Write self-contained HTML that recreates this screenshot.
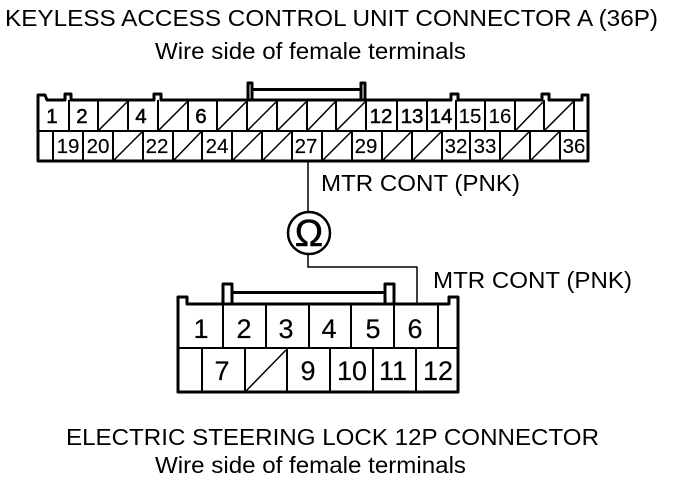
<!DOCTYPE html>
<html><head><meta charset="utf-8"><style>
html,body{margin:0;padding:0;background:#fff}
svg{display:block}
text{font-family:"Liberation Sans",sans-serif;fill:#000}
.t{font-size:23.500px}
.a{font-size:20.500px;text-anchor:middle;stroke:#000;stroke-width:.15px}
.b{stroke:#000;stroke-width:.5px}
.c{font-size:27px;text-anchor:middle;stroke:#000;stroke-width:.2px}
</style></head><body>
<svg width="688" height="484" viewBox="0 0 688 484" xmlns="http://www.w3.org/2000/svg">
<text class="t" x="5" y="26" textLength="653" lengthAdjust="spacingAndGlyphs">KEYLESS ACCESS CONTROL UNIT CONNECTOR A (36P)</text>
<text class="t" x="155" y="59" textLength="311" lengthAdjust="spacingAndGlyphs">Wire side of female terminals</text>

<g fill="none" stroke="#000" stroke-linejoin="round">
<!-- top connector outline -->
<path stroke-width="3" d="M38 161V95H45L47 100H65V94H71V100H154V94H161V100H451V94H458V100H542V94H549V100H582V95H588V161Z"/>
<path stroke-width="3" d="M248 100V83H252V100M361 100V83H365V100M252 89.500H361"/>
<path stroke-width="2" d="M38 131H588"/>
<path stroke-width="2" d="M69 100V131M98 100V131M128 100V131M158 100V131M188 100V131M217 100V131M247 100V131M277 100V131M307 100V131M336 100V131M366 100V131M397 100V131M427 100V131M456 100V131M485 100V131M515 100V131M544 100V131M574 100V131"/>
<path stroke-width="2" d="M53 131V161M83 131V161M113 131V161M143 131V161M173 131V161M202 131V161M232 131V161M262 131V161M292 131V161M322 131V161M352 131V161M382 131V161M412 131V161M442 131V161M470 131V161M500 131V161M530 131V161M560 131V161"/>
<path stroke-width="1.500" d="M99 130L127 102M159 130L187 102M218 130L246 102M248 130L276 102M278 130L306 102M308 130L335 102M337 130L365 102M516 130L543 102M545 130L573 102"/>
<path stroke-width="1.500" d="M114 160L142 132M174 160L201 132M233 160L261 132M263 160L291 132M323 160L351 132M383 160L411 132M413 160L441 132M501 160L529 132M531 160L559 132"/>
<!-- wires -->
<path stroke-width="1.500" d="M308 162V212M308 254V267H417V304"/>
<circle cx="309" cy="233" r="21" stroke-width="2.500" fill="#fff"/>
<!-- bottom connector -->
<path stroke-width="3" d="M178 392V297H187V304H449V297H458V392Z"/>
<path stroke-width="3" d="M223 304V284H232V304M385 304V284H394V304M232 292.500H385"/>
<path stroke-width="2" d="M178 348H458"/>
<path stroke-width="2" d="M223 304V348M266 304V348M309 304V348M351 304V348M394 304V348M438 304V348"/>
<path stroke-width="2" d="M202 348V392M245 348V392M287 348V392M330 348V392M373 348V392M416 348V392"/>
<path stroke-width="1.500" d="M246 391L286 350"/>
</g>

<g>
<text class="a b" x="52" y="123">1</text><text class="a b" x="82" y="123">2</text><text class="a b" x="141" y="123">4</text><text class="a b" x="201" y="123">6</text>
<text class="a b" x="381" y="123">12</text><text class="a b" x="412" y="123">13</text><text class="a b" x="441" y="123">14</text><text class="a" x="470" y="123">15</text><text class="a" x="500" y="123">16</text>
<text class="a" x="68" y="153">19</text><text class="a" x="98" y="153">20</text><text class="a" x="157" y="153">22</text><text class="a" x="217" y="153">24</text><text class="a" x="306" y="153">27</text><text class="a" x="366" y="153">29</text><text class="a" x="456" y="153">32</text><text class="a" x="485" y="153">33</text><text class="a" x="574" y="153">36</text>
</g>

<text class="t" x="321" y="191" textLength="199" lengthAdjust="spacingAndGlyphs">MTR CONT (PNK)</text>
<text class="t" x="433" y="288" textLength="199" lengthAdjust="spacingAndGlyphs">MTR CONT (PNK)</text>
<text x="309" y="246" style="font-size:38px;text-anchor:middle;stroke:#000;stroke-width:.5px">Ω</text>

<text class="c" x="201" y="338">1</text><text class="c" x="244" y="338">2</text><text class="c" x="286" y="338">3</text><text class="c" x="329" y="338">4</text><text class="c" x="373" y="338">5</text><text class="c" x="415" y="338">6</text>
<text class="c" x="222" y="380">7</text><text class="c" x="308" y="380">9</text><text class="c" x="352" y="380">10</text><text class="c" x="393" y="380">11</text><text class="c" x="438" y="380">12</text>

<text class="t" x="66" y="445" textLength="533" lengthAdjust="spacingAndGlyphs">ELECTRIC STEERING LOCK 12P CONNECTOR</text>
<text class="t" x="155" y="473" textLength="311" lengthAdjust="spacingAndGlyphs">Wire side of female terminals</text>
</svg>
</body></html>
